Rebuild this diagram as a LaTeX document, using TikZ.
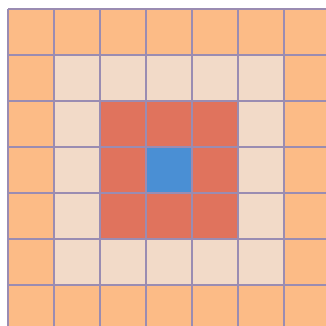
\documentclass[tikz,border=0pt]{standalone}
\usepackage{tikz}
\definecolor{ringout}{HTML}{FCBB86}
\definecolor{ringmid}{HTML}{F2DAC8}
\definecolor{ringin}{HTML}{E0735D}
\definecolor{core}{HTML}{4A8FD4}
\definecolor{gridline}{HTML}{9A8CB2}
\begin{document}
\begin{tikzpicture}[every path/.style={line width=1pt}]
  \useasboundingbox (-0.175,0.12) rectangle (6.92,7.197);
  \fill[ringout] (0,0) rectangle (7,7);
  \fill[ringmid] (1,1) rectangle (6,6);
  \fill[ringin] (2,2) rectangle (5,5);
  \fill[core] (3,3) rectangle (4,4);
  \draw[gridline] (0,0) grid (7,7);
\end{tikzpicture}
\end{document}
